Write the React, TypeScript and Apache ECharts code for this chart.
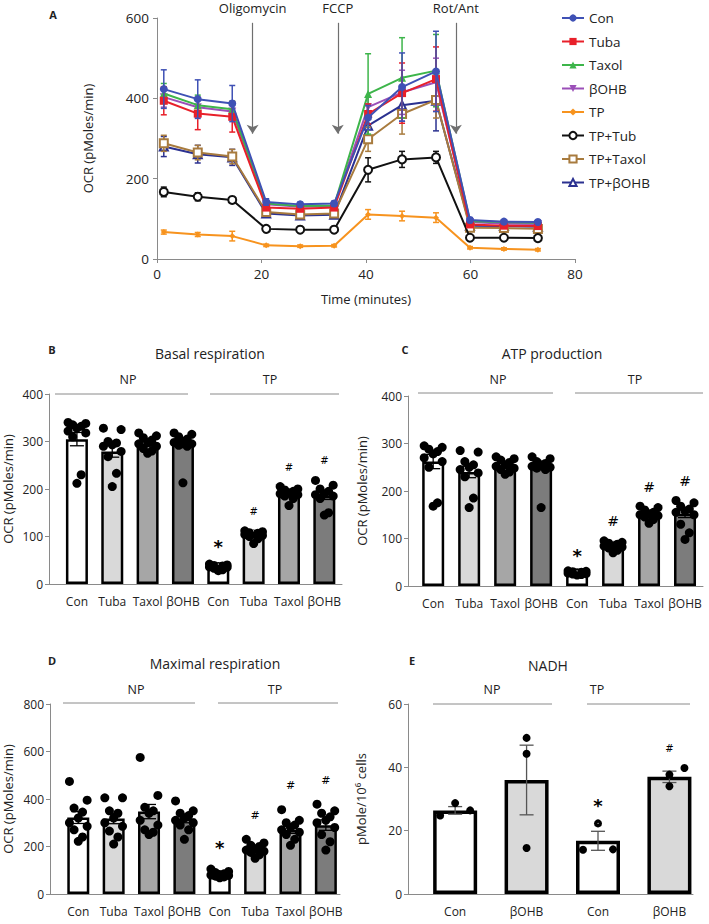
import React, { useEffect, useRef } from 'react';
import * as echarts from 'echarts';

// ---------- Panel A data ----------
const times = [1.3, 7.8, 14.4, 20.9, 27.4, 33.9, 40.4, 46.9, 53.4, 59.9, 66.4, 72.9];
const seriesNames = ['Con', 'Tuba', 'Taxol', 'βOHB', 'TP', 'TP+Tub', 'TP+Taxol', 'TP+βOHB'];
const conOCR = [423, 398, 387, 142, 136, 138, 352, 428, 467, 97, 93, 92];
const tubaOCR = [394, 362, 354, 128, 125, 128, 361, 413, 448, 86, 83, 82];
const taxolOCR = [412, 383, 373, 138, 132, 133, 411, 451, 469, 94, 92, 90];
const bohbOCR = [403, 378, 367, 136, 130, 132, 378, 415, 440, 92, 88, 87];
const tpOCR = [67, 61, 57, 34, 32, 33, 111, 107, 103, 28, 25, 23];
const tpTubOCR = [167, 155, 147, 75, 73, 73, 222, 248, 253, 53, 53, 52];
const tpTaxolOCR = [288, 265, 255, 117, 111, 113, 298, 361, 396, 78, 77, 75];
const tpBohbOCR = [280, 261, 253, 113, 108, 110, 332, 383, 394, 83, 82, 80];
const conErr = [48, 48, 45, 8, 6, 6, 30, 85, 100, 6, 5, 5];
const tubaErr = [35, 40, 38, 6, 5, 5, 25, 75, 80, 5, 5, 5];
const taxolErr = [25, 25, 20, 6, 5, 5, 100, 100, 90, 5, 4, 4];
const bohbErr = [25, 25, 20, 6, 5, 5, 25, 55, 60, 5, 4, 4];
const tpErr = [5, 5, 12, 3, 3, 3, 12, 12, 12, 3, 3, 3];
const tpTubErr = [12, 10, 8, 4, 4, 4, 30, 20, 15, 4, 3, 3];
const tpTaxolErr = [20, 18, 18, 5, 5, 5, 30, 50, 45, 5, 4, 4];
const tpBohbErr = [25, 22, 20, 5, 5, 5, 25, 40, 75, 5, 4, 4];
const eventNames = ['Oligomycin', 'FCCP', 'Rot/Ant'];
const eventTimes = [18.3, 34.6, 57.2];
const timeTicks = [0, 20, 40, 60, 80];

// ---------- Bar panels data ----------
const cats8 = ['Con', 'Tuba', 'Taxol', 'βOHB', 'Con', 'Tuba', 'Taxol', 'βOHB'];
const cats4 = ['Con', 'βOHB', 'Con', 'βOHB'];

const basalMean = [305, 279, 295, 293, 37, 104, 190, 186];
const basalErr = [14, 12, 5, 6, 2, 3, 4, 8];
const basalDots = [
  [340, 338, 335, 332, 328, 322, 318, 310, 230, 212],
  [328, 325, 300, 297, 293, 290, 279, 268, 233, 205],
  [318, 312, 308, 303, 298, 295, 290, 285, 280, 275],
  [318, 315, 310, 305, 300, 298, 295, 292, 290, 213],
  [42, 40, 39, 38, 37, 36, 35, 33, 30, 28],
  [112, 110, 108, 107, 105, 104, 102, 100, 95, 85],
  [205, 200, 198, 195, 192, 190, 188, 185, 180, 165],
  [218, 208, 200, 195, 190, 188, 185, 180, 150, 145],
];
const basalMarks = ['', '', '', '', '*', '#', '#', '#'];

const atpMean = [262, 240, 253, 250, 28, 85, 151, 152];
const atpErr = [15, 12, 5, 5, 1, 3, 4, 8];
const atpDots = [
  [295, 292, 288, 283, 278, 270, 262, 250, 175, 168],
  [285, 282, 262, 255, 250, 245, 238, 230, 185, 165],
  [272, 268, 265, 260, 255, 252, 248, 245, 240, 235],
  [272, 268, 262, 258, 255, 252, 250, 248, 245, 165],
  [32, 31, 30, 29, 28, 27, 26, 25, 24, 23],
  [95, 92, 90, 88, 86, 84, 82, 80, 75, 70],
  [168, 165, 160, 155, 152, 150, 148, 145, 140, 132],
  [180, 175, 168, 162, 158, 155, 150, 130, 112, 98],
];
const atpMarks = ['', '', '', '', '*', '#', '#', '#'];

const maxMean = [322, 318, 347, 318, 80, 185, 270, 290];
const maxErr = [25, 22, 30, 18, 5, 8, 15, 22];
const maxDots = [
  [474, 395, 362, 345, 320, 300, 285, 270, 240, 222],
  [405, 405, 350, 340, 320, 300, 285, 265, 240, 210],
  [575, 415, 365, 350, 340, 310, 290, 270, 260, 250],
  [392, 350, 340, 330, 320, 310, 300, 290, 270, 230],
  [105, 95, 90, 85, 82, 80, 78, 75, 72, 68],
  [230, 215, 205, 200, 190, 185, 180, 175, 165, 150],
  [355, 310, 300, 290, 280, 270, 260, 250, 230, 205],
  [378, 350, 340, 325, 310, 300, 280, 250, 220, 185],
];
const maxMarks = ['', '', '', '', '*', '#', '#', '#'];

const nadhMean = [26.4, 36.0, 16.8, 37.0];
const nadhErr = [1.2, 11, 3, 1.8];
const nadhDots = [
  [28.7, 26.4, 24.8],
  [49.3, 44.3, 14.5],
  [22.3, 14.0, 14.1],
  [39.8, 37.7, 34.0],
];
const nadhMarks = ['', '', '*', '#'];

// ---------- styles ----------
const FONT = 'Open Sans, Noto Sans, sans-serif';
const TXT = '#222';
const AXC = '#8a8a8a';
const lineColors = ['#3F51B5', '#E8202A', '#3DB54A', '#9B4FB8', '#F7931E', '#111111', '#A87B3E', '#2B3190'];
const lineSymbols = ['circle', 'rect', 'triangle', 'triangle', 'diamond', 'emptyCircle', 'emptyRect', 'emptyTriangle'];
const symbolRot = [0, 0, 0, 180, 0, 0, 0, 0];
const symbolSizes = [8, 8, 8, 8, 6, 8, 8, 8];
const fills8 = ['#ffffff', '#d9d9d9', '#a6a6a6', '#7c7c7c', '#ffffff', '#d9d9d9', '#a6a6a6', '#7c7c7c'];
const fills4 = ['#ffffff', '#d9d9d9', '#ffffff', '#d9d9d9'];
const jitter10 = [-0.25, 0.25, -0.12, 0.12, 0, -0.25, 0.25, -0.12, 0.12, 0];
const jitterNadh = [
  [0, 0.21, -0.21],
  [0, 0, 0],
  [0, -0.21, 0.21],
  [0.21, 0, 0],
];

function errRender(color: string, capW: number, lw: number) {
  return (params: any, api: any) => {
    const x = api.value(0);
    const lo = api.value(1);
    const hi = api.value(2);
    const p1 = api.coord([x, lo]);
    const p2 = api.coord([x, hi]);
    const w = capW / 2;
    const style = { stroke: color, lineWidth: lw };
    return {
      type: 'group',
      children: [
        { type: 'line', shape: { x1: p1[0], y1: p1[1], x2: p2[0], y2: p2[1] }, style },
        { type: 'line', shape: { x1: p2[0] - w, y1: p2[1], x2: p2[0] + w, y2: p2[1] }, style },
        { type: 'line', shape: { x1: p1[0] - w, y1: p1[1], x2: p1[0] + w, y2: p1[1] }, style },
      ],
    };
  };
}

function barPanel(
  g: number,
  means: number[],
  errs: number[],
  dots: number[][],
  marks: string[],
  fills: string[],
  opts: { barWidth: number; borderW: number; capW: number; errColor: string; dotSize: number; jitter: (i: number, j: number) => number; hashSize: number; markGap: number }
) {
  const bars = {
    type: 'bar',
    xAxisIndex: g,
    yAxisIndex: g,
    barWidth: opts.barWidth,
    z: 2,
    data: means.map((v, i) => ({
      value: [i, v],
      itemStyle: { color: fills[i], borderColor: '#000', borderWidth: opts.borderW },
    })),
  };
  const err = {
    type: 'custom',
    xAxisIndex: g,
    yAxisIndex: g,
    z: 3,
    renderItem: errRender(opts.errColor, opts.capW, 1.3),
    encode: { x: 0, y: [1, 2] },
    data: means.map((v, i) => [i, v - errs[i], v + errs[i]]),
  };
  const dotData: number[][] = [];
  dots.forEach((arr, i) => arr.forEach((v, j) => dotData.push([i + opts.jitter(i, j), v])));
  const sc = {
    type: 'scatter',
    xAxisIndex: g,
    yAxisIndex: g,
    z: 4,
    symbolSize: opts.dotSize,
    itemStyle: { color: '#000', opacity: 1 },
    data: dotData,
  };
  const markData = marks
    .map((m, i) => ({ m, i }))
    .filter((d) => d.m)
    .map((d) => ({
      value: [d.i, Math.max(Math.max(...dots[d.i]), means[d.i] + errs[d.i])],
      label: {
        show: true,
        position: 'top',
        distance: d.m === '*' ? opts.markGap - 6 : opts.markGap,
        formatter: d.m,
        fontSize: d.m === '*' ? 18 : opts.hashSize,
        fontWeight: d.m === '*' ? 'bold' : 'normal',
        color: '#000',
        opacity: 1,
        fontFamily: 'DejaVu Sans, sans-serif',
      },
    }));
  const mk = {
    type: 'scatter',
    xAxisIndex: g,
    yAxisIndex: g,
    z: 5,
    symbol: 'circle',
    symbolSize: 1,
    itemStyle: { color: '#fff', opacity: 1 },
    data: markData,
  };
  return [bars, err, sc, mk];
}

function catXAxis(g: number, cats: string[], min: number, max: number) {
  return {
    type: 'value',
    gridIndex: g,
    min,
    max,
    axisLine: { show: true, onZero: false, lineStyle: { color: AXC, width: 1 } },
    axisTick: { show: false },
    splitLine: { show: false },
    axisLabel: {
      customValues: cats.map((_, i) => i),
      formatter: (v: number) => cats[Math.round(v)] ?? '',
      fontSize: 12,
      color: TXT,
      fontFamily: FONT,
      margin: 11,
    },
  };
}

function valYAxis(g: number, max: number, interval: number, name: string, nameGap: number) {
  return {
    type: 'value',
    gridIndex: g,
    min: 0,
    max,
    interval,
    name,
    nameLocation: 'middle',
    nameGap,
    nameTextStyle: { fontSize: 13, color: TXT, fontFamily: FONT },
    axisLine: { show: true, onZero: false, lineStyle: { color: AXC, width: 1 } },
    axisTick: { show: true, length: 4, lineStyle: { color: AXC } },
    splitLine: { show: false },
    axisLabel: { fontSize: 12, color: TXT, fontFamily: FONT, margin: 6 },
  };
}

function txt(x: number, y: number, text: string, size: number, bold = false) {
  return {
    type: 'text',
    x,
    y,
    style: { text, fontSize: size, fontFamily: FONT, fill: TXT, fontWeight: bold ? 'bold' : 'normal', align: 'center', verticalAlign: 'middle' },
  };
}
function hline(x1: number, x2: number, y: number) {
  return { type: 'line', shape: { x1, y1: y, x2, y2: y }, style: { stroke: AXC, lineWidth: 1 } };
}

export default function App() {
  const ref = useRef<HTMLDivElement>(null);
  useEffect(() => {
    if (!ref.current) return;
    const chart = echarts.init(ref.current, undefined, { renderer: 'svg' });
    const aValues = [conOCR, tubaOCR, taxolOCR, bohbOCR, tpOCR, tpTubOCR, tpTaxolOCR, tpBohbOCR];
    const aErrs = [conErr, tubaErr, taxolErr, bohbErr, tpErr, tpTubErr, tpTaxolErr, tpBohbErr];

    const lineSeries: any[] = [];
    for (let k = seriesNames.length - 1; k >= 0; k--) {
      lineSeries.push({
        type: 'custom',
        name: seriesNames[k] + ' err',
        xAxisIndex: 0,
        yAxisIndex: 0,
        z: 2 + (7 - k) * 2,
        renderItem: errRender(lineColors[k], 6, 1.5),
        encode: { x: 0, y: [1, 2] },
        data: aValues[k].map((v, i) => [times[i], v - aErrs[k][i], v + aErrs[k][i]]),
      });
      lineSeries.push({
        type: 'line',
        name: seriesNames[k],
        xAxisIndex: 0,
        yAxisIndex: 0,
        z: 3 + (7 - k) * 2,
        symbol: lineSymbols[k],
        symbolRotate: symbolRot[k],
        symbolSize: symbolSizes[k],
        showAllSymbol: true,
        lineStyle: { color: lineColors[k], width: 2 },
        itemStyle: { color: lineColors[k], borderColor: lineColors[k], borderWidth: lineSymbols[k].startsWith('empty') ? 1.6 : 0 },
        data: aValues[k].map((v, i) => [times[i], v]),
        markLine:
          k === 0
            ? {
                silent: true,
                symbol: ['none', 'arrow'],
                symbolSize: 9,
                lineStyle: { color: '#6f6f6f', type: 'solid', width: 1.2 },
                label: { show: true, position: 'start', distance: 8, formatter: '{b}', color: TXT, fontSize: 13, fontFamily: FONT },
                data: eventTimes.map((t, i) => [
                  { coord: [t, 588], name: eventNames[i] },
                  { coord: [t, 312] },
                ]),
              }
            : undefined,
      });
    }

    const barOpts8 = { barWidth: 22, borderW: 2.5, capW: 14, errColor: '#000', dotSize: 9, jitter: (_i: number, j: number) => jitter10[j], hashSize: 10, markGap: 14 };
    const seriesB = barPanel(1, basalMean, basalErr, basalDots, basalMarks, fills8, barOpts8);
    const seriesC = barPanel(2, atpMean, atpErr, atpDots, atpMarks, fills8, { ...barOpts8, hashSize: 14, markGap: 12 });
    const seriesD = barPanel(3, maxMean, maxErr, maxDots, maxMarks, fills8, { ...barOpts8, hashSize: 11, markGap: 18 });
    const seriesE = barPanel(4, nadhMean, nadhErr, nadhDots, nadhMarks, fills4, {
      barWidth: 44,
      borderW: 3.5,
      capW: 14,
      errColor: '#555',
      dotSize: 8,
      jitter: (i: number, j: number) => jitterNadh[i][j],
      hashSize: 10,
      markGap: 14,
    });

    const option: any = {
      animation: false,
      textStyle: { fontFamily: FONT },
      grid: [
        { left: 157, top: 18, width: 418, height: 241 },
        { left: 47, top: 394, width: 295, height: 190 },
        { left: 408, top: 396, width: 295, height: 190 },
        { left: 49, top: 704, width: 291, height: 190 },
        { left: 408, top: 704, width: 285, height: 190 },
      ],
      legend: {
        data: seriesNames,
        orient: 'vertical',
        left: 556,
        top: 6,
        itemWidth: 22,
        itemHeight: 9,
        itemGap: 9.5,
        selectedMode: false,
        textStyle: { fontSize: 13.5, color: TXT, fontFamily: FONT },
      },
      xAxis: [
        {
          type: 'value',
          gridIndex: 0,
          min: 0,
          max: 80,
          interval: 20,
          name: 'Time (minutes)',
          nameLocation: 'middle',
          nameGap: 33,
          nameTextStyle: { fontSize: 13, color: TXT, fontFamily: FONT },
          axisLine: { show: true, onZero: false, lineStyle: { color: AXC } },
          axisTick: { show: true, length: 4, lineStyle: { color: AXC } },
          splitLine: { show: false },
          axisLabel: { fontSize: 13.5, color: TXT, fontFamily: FONT, margin: 8, customValues: timeTicks },
        },
        catXAxis(1, cats8, -0.79, 7.5),
        catXAxis(2, cats8, -0.7, 7.5),
        catXAxis(3, cats8, -0.8, 7.4),
        catXAxis(4, cats4, -0.66, 3.33),
      ],
      yAxis: [
        {
          ...valYAxis(0, 600, 200, 'OCR (pMoles/min)', 63),
          axisLabel: { fontSize: 13.5, color: TXT, fontFamily: FONT, margin: 8 },
        },
        valYAxis(1, 400, 100, 'OCR (pMoles/min)', 35),
        valYAxis(2, 400, 100, 'OCR (pMoles/min)', 40),
        valYAxis(3, 800, 200, 'OCR (pMoles/min)', 36),
        valYAxis(4, 60, 20, 'pMole/10⁶ cells', 41),
      ],
      series: [...lineSeries, ...seriesB, ...seriesC, ...seriesD, ...seriesE],
      graphic: [
        txt(53, 14, 'A', 11, true),
        txt(52, 349, 'B', 11, true),
        txt(210, 353, 'Basal respiration', 14),
        txt(128, 379, 'NP', 12.5),
        txt(270, 379, 'TP', 12.5),
        hline(55, 188, 394),
        hline(210, 339, 394),
        txt(405, 349, 'C', 11, true),
        txt(552, 353, 'ATP production', 14),
        txt(498, 379, 'NP', 12.5),
        txt(635, 379, 'TP', 12.5),
        hline(418, 553, 393),
        hline(575, 703, 393),
        txt(52, 660, 'D', 11, true),
        txt(215, 663, 'Maximal respiration', 14),
        txt(136, 689, 'NP', 12.5),
        txt(275, 689, 'TP', 12.5),
        hline(63, 195, 703),
        hline(218, 338, 703),
        txt(412, 660, 'E', 11, true),
        txt(548, 665, 'NADH', 14),
        txt(492, 689, 'NP', 12.5),
        txt(597, 689, 'TP', 12.5),
        hline(433, 552, 704),
        hline(587, 690, 704),
      ],
    };
    chart.setOption(option);
    return () => chart.dispose();
  }, []);
  return <div ref={ref} style={{ position: 'fixed', left: 0, top: 0, width: 709, height: 924, background: '#fff' }} />;
}
